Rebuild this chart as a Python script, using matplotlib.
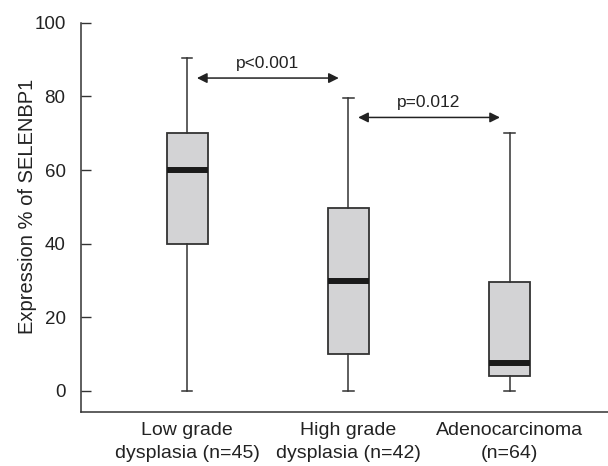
import matplotlib
matplotlib.use("Agg")
import matplotlib.pyplot as plt

plt.rcParams['font.family'] = ['Liberation Sans', 'DejaVu Sans']

categories = ["Low grade\ndysplasia (n=45)", "High grade\ndysplasia (n=42)", "Adenocarcinoma\n(n=64)"]
whislo = [0, 0, 0]
q1 = [40, 10, 4]
med = [60, 30, 7.7]
q3 = [70, 49.7, 29.5]
whishi = [90.5, 79.5, 70]
yticks = [0, 20, 40, 60, 80, 100]
comparisons = [(1, 2, 85, "p<0.001"), (2, 3, 74.3, "p=0.012")]

dark = "#333333"
fig = plt.figure(figsize=(6.08, 4.66), dpi=100)
ax = fig.add_axes([0.133, 0.116, 0.867, 0.835])

stats = []
for i in range(len(categories)):
    stats.append(dict(whislo=whislo[i], q1=q1[i], med=med[i], q3=q3[i],
                      whishi=whishi[i], fliers=[], label=categories[i]))

ax.bxp(stats, positions=[1, 2, 3], widths=0.255, capwidths=0.065,
       patch_artist=True, showfliers=False,
       boxprops=dict(facecolor="#d3d3d5", edgecolor=dark, linewidth=1.3),
       medianprops=dict(color="#1a1a1a", linewidth=4.3, solid_capstyle='butt'),
       whiskerprops=dict(color=dark, linewidth=1.1),
       capprops=dict(color=dark, linewidth=1.1))

for a, b, y, txt in comparisons:
    ax.annotate("", xy=(a + 0.06, y), xytext=(b - 0.06, y),
                arrowprops=dict(arrowstyle="<|-|>", color="#222222", lw=1.1,
                                mutation_scale=15, shrinkA=0, shrinkB=0))
    ax.text((a + b) / 2, y + 2.0, txt, ha="center", va="bottom", fontsize=12.5, color="#222222")

ax.set_xlim(0.34, 3.61)
ax.set_ylim(-5.7, 100)
ax.set_yticks(yticks)
ax.set_yticklabels([str(t) for t in yticks])
ax.set_xticks([1, 2, 3])
ax.set_xticklabels(categories, linespacing=1.5)
ax.spines['top'].set_visible(False)
ax.spines['right'].set_visible(False)
for s in ['left', 'bottom']:
    ax.spines[s].set_color(dark)
    ax.spines[s].set_linewidth(1.1)
ax.spines['left'].set_bounds(-5.7, 100)
ax.tick_params(axis='y', direction='in', length=7, width=1.0, color=dark,
               labelsize=13.5, pad=11, labelcolor="#222222")
ax.tick_params(axis='x', length=0, labelsize=14, pad=7, labelcolor="#222222")
ax.set_ylabel("Expression % of SELENBP1", fontsize=14.5, color="#222222")
ax.yaxis.set_label_coords(-0.083, 0.528)

fig.savefig("out.png", dpi=100)
